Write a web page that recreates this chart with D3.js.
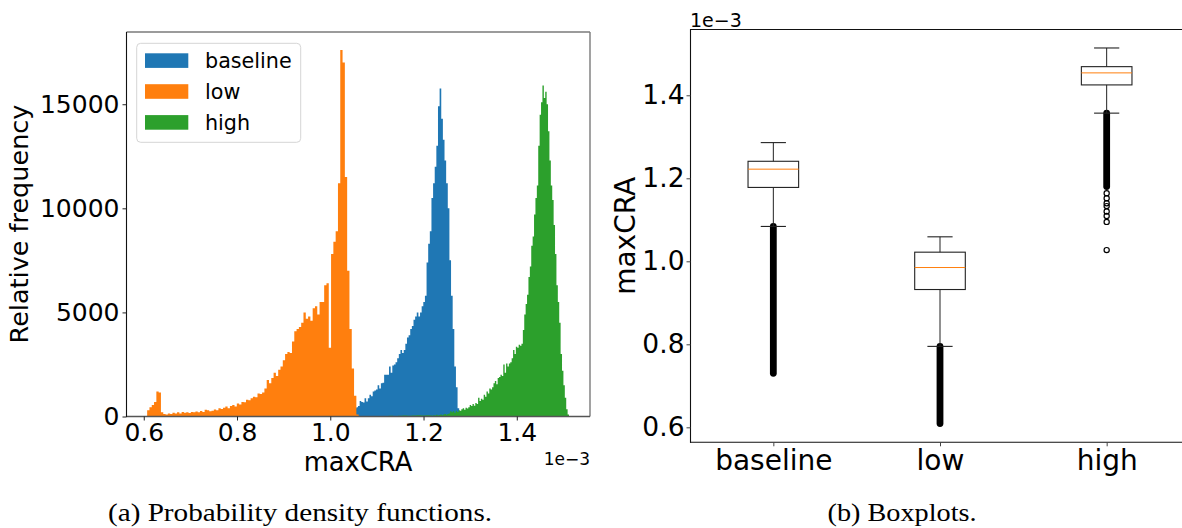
<!DOCTYPE html>
<html>
<head>
<meta charset="utf-8">
<script src="https://cdn.jsdelivr.net/npm/d3@7"></script>
<style>
  html, body { margin: 0; padding: 0; background: #fff; }
  svg { display: block; }
  text { font-family: "DejaVu Sans", sans-serif; fill: #000; }
  text.caption { font-family: "Liberation Serif", "Times New Roman", serif; }
</style>
</head>
<body>
<svg id="chart" width="1182" height="528"></svg>
<script>
// ---------------- DATA ----------------
const categories = ["baseline", "low", "high"];
const seriesColors = ["#1f77b4", "#ff7f0e", "#2ca02c"];

// histogram bin edges (start, width) in units of 1e-3
const baselineBinStart = 1.0525, baselineBinWidth = 0.0035;
const lowBinStart = 0.6073, lowBinWidth = 0.00493;
const highBinStart = 1.215, highBinWidth = 0.003;
const highTailBinStart = 1.025, highTailBinWidth = 0.01;

// relative frequency per bin
const baselineFreq = [400, 450, 500, 750, 700, 670, 880, 720, 880, 1040,
  970, 1200, 1250, 1300, 1500, 1350, 1600, 1620, 2000, 2000,
  2000, 2400, 2100, 2450, 2500, 2600, 2800, 3000, 3200, 3050,
  3200, 3500, 3800, 3900, 4200, 4350, 4650, 4800, 5000, 4800,
  5000, 5300, 5500, 5800, 7400, 8300, 8900, 10500, 11200, 12000,
  13000, 14900, 15750, 14300, 13300, 12300, 11200, 10000, 7500, 5800,
  4200, 2400, 1400, 400, 30];
const lowFreq = [300, 450, 550, 700, 1200, 1150, 200, 120, 100, 150,
  120, 180, 150, 200, 150, 220, 180, 200, 170, 220,
  200, 240, 200, 260, 220, 320, 300, 250, 280, 340,
  300, 400, 360, 420, 480, 400, 500, 550, 480, 620,
  580, 700, 680, 800, 780, 880, 950, 920, 1100, 1080,
  1150, 1350, 1750, 1600, 1850, 2100, 1950, 2250, 2400, 2700,
  3000, 3100, 3050, 3600, 4100, 4200, 4300, 4500, 5000, 4700,
  4800, 4600, 5200, 5300, 4900, 5500, 5500, 6300, 6400, 3300,
  7800, 8400, 8900, 11200, 17600, 17000, 11500, 7000, 4200, 2300,
  1000, 100];
const highFreq = [50, 40, 60, 50, 80, 50, 70, 100, 60, 100,
  120, 80, 120, 150, 250, 200, 250, 180, 280, 220,
  300, 280, 350, 400, 320, 420, 380, 450, 550, 500,
  600, 520, 650, 600, 900, 750, 850, 800, 1050, 950,
  1200, 1100, 1350, 1300, 1400, 1600, 1700, 1550, 1850, 1900,
  2000, 1950, 2500, 2100, 2550, 2400, 2550, 2600, 2800, 3200,
  3000, 3350, 3300, 3450, 3400, 3500, 4150, 4900, 5400, 5850,
  6700, 7200, 8200, 8650, 9700, 10500, 11100, 13000, 14500, 15100,
  15900, 15300, 15600, 15000, 13700, 12300, 11100, 10400, 9200, 7800,
  6300, 5500, 4500, 3000, 2200, 1500, 900, 350, 100];
const highTailFreq = [10, 10, 20, 10, 20, 20, 30, 20, 30, 30, 40, 30, 40, 50, 40, 50, 60, 50, 60];

// tick labels
const histXTicks = [0.6, 0.8, 1.0, 1.2, 1.4];
const histYTicks = [0, 5000, 10000, 15000];
const boxYTicks = [0.6, 0.8, 1.0, 1.2, 1.4];

// boxplot statistics (units of 1e-3): [lower whisker, q1, median, q3, upper whisker]
const baselineBox = [1.084, 1.178, 1.222, 1.241, 1.286];
const lowBox = [0.795, 0.932, 0.985, 1.022, 1.059];
const highBox = [1.357, 1.425, 1.454, 1.469, 1.514];
// densely packed outlier ranges [min, max]
const baselineDenseOutliers = [0.730, 1.084];
const lowDenseOutliers = [0.609, 0.795];
const highDenseOutliers = [1.180, 1.357];
// individual outliers
const baselineOutliers = [];
const lowOutliers = [];
const highOutliers = [1.164, 1.152, 1.140, 1.133, 1.120, 1.109, 1.095, 1.027];

// ---------------- DRAW ----------------
const svg = d3.select("#chart");

// ===== Left: histogram =====
const xL = d3.scaleLinear().domain([0.563, 1.557]).range([126.5, 590]);
const yL = d3.scaleLinear().domain([0, 18470]).range([416.5, 32]);

function binsOf(start, width, freq) {
  const pts = freq.map((v, i) => ({x: start + i * width, v}));
  pts.push({x: start + freq.length * width, v: freq[freq.length - 1]});
  return pts;
}
const area = d3.area()
  .x(d => xL(d.x)).y0(yL(0)).y1(d => yL(d.v))
  .curve(d3.curveStepAfter);

const histSeries = [
  {pts: binsOf(baselineBinStart, baselineBinWidth, baselineFreq), c: seriesColors[0]},
  {pts: binsOf(lowBinStart, lowBinWidth, lowFreq), c: seriesColors[1]},
  {pts: binsOf(highTailBinStart, highTailBinWidth, highTailFreq), c: seriesColors[2]},
  {pts: binsOf(highBinStart, highBinWidth, highFreq), c: seriesColors[2]}
];
const gh = svg.append("g");
histSeries.forEach(s => {
  gh.append("path").attr("d", area(s.pts)).attr("fill", s.c);
});

// spines
const spL = svg.append("g");
spL.append("line").attr("x1", 126.5).attr("x2", 590).attr("y1", 32).attr("y2", 32).attr("stroke", "#7a7a7a").attr("stroke-width", 1.4);
spL.append("line").attr("x1", 590).attr("x2", 590).attr("y1", 32).attr("y2", 416.5).attr("stroke", "#7a7a7a").attr("stroke-width", 1.4);
spL.append("line").attr("x1", 126.5).attr("x2", 590).attr("y1", 416.5).attr("y2", 416.5).attr("stroke", "#555").attr("stroke-width", 1.3);
spL.append("line").attr("x1", 126.5).attr("x2", 126.5).attr("y1", 32).attr("y2", 417).attr("stroke", "#111").attr("stroke-width", 1.1);

// axes
const axYL = svg.append("g").attr("transform", "translate(126.5,0)")
  .call(d3.axisLeft(yL).tickValues(histYTicks).tickSize(4).tickPadding(3).tickFormat(d3.format("d")));
const axXL = svg.append("g").attr("transform", "translate(0,416.5)")
  .call(d3.axisBottom(xL).tickValues(histXTicks).tickSize(4).tickPadding(2.5).tickFormat(d3.format(".1f")));
[axYL, axXL].forEach(a => {
  a.select(".domain").remove();
  a.selectAll("line").attr("stroke", "#222");
  a.selectAll("text").attr("font-size", 25).attr("font-family", "DejaVu Sans").attr("fill", "#000");
});

svg.append("text").attr("transform", "translate(28,224) rotate(-90)")
  .attr("text-anchor", "middle").attr("font-size", 25.5).text("Relative frequency");
svg.append("text").attr("x", 358).attr("y", 471).attr("text-anchor", "middle")
  .attr("font-size", 25.8).text("maxCRA");
svg.append("text").attr("x", 590).attr("y", 465).attr("text-anchor", "end")
  .attr("font-size", 17).text("1e\u22123");

// legend
const lg = svg.append("g");
lg.append("rect").attr("x", 136.7).attr("y", 43.3).attr("width", 164).attr("height", 99)
  .attr("rx", 4).attr("fill", "#fff").attr("fill-opacity", 0.85).attr("stroke", "#d5d5d5").attr("stroke-width", 1);
categories.forEach((c, i) => {
  const cy = 60.6 + i * 30.9;
  lg.append("rect").attr("x", 145).attr("y", cy - 7.3).attr("width", 43.3).attr("height", 14.6).attr("fill", seriesColors[i]);
  lg.append("text").attr("x", 205).attr("y", cy).attr("dy", "0.36em").attr("font-size", 20.7).text(c);
});

// ===== Right: boxplots =====
const xR = d3.scalePoint().domain(categories).range([690, 1190]).padding(0.5);
const yR = d3.scaleLinear().domain([0.5639, 1.559]).range([442.3, 29.3]);

svg.append("line").attr("x1", 690).attr("x2", 1182).attr("y1", 29.5).attr("y2", 29.5).attr("stroke", "#111").attr("stroke-width", 1.1);
svg.append("line").attr("x1", 690).attr("x2", 1182).attr("y1", 442.3).attr("y2", 442.3).attr("stroke", "#111").attr("stroke-width", 1.1);
svg.append("line").attr("x1", 690.5).attr("x2", 690.5).attr("y1", 29.3).attr("y2", 442.8).attr("stroke", "#111").attr("stroke-width", 1.1);

const axYR = svg.append("g").attr("transform", "translate(690.5,0)")
  .call(d3.axisLeft(yR).tickValues(boxYTicks).tickSize(4).tickPadding(2).tickFormat(d3.format(".1f")));
const axXR = svg.append("g").attr("transform", "translate(0,442.3)")
  .call(d3.axisBottom(xR).tickSize(4).tickPadding(3.8));
[axYR, axXR].forEach(a => {
  a.select(".domain").remove();
  a.selectAll("line").attr("stroke", "#444");
  a.selectAll("text").attr("font-family", "DejaVu Sans").attr("fill", "#000");
});
axYR.selectAll("text").attr("font-size", 26.5);
axXR.selectAll("text").attr("font-size", 28);

svg.append("text").attr("transform", "translate(634.5,235.8) rotate(-90)")
  .attr("text-anchor", "middle").attr("font-size", 28).text("maxCRA");
svg.append("text").attr("x", 690).attr("y", 26.7).attr("font-size", 19).text("1e\u22123");

const boxData = [
  {cat: "baseline", s: baselineBox, dense: baselineDenseOutliers, pts: baselineOutliers},
  {cat: "low", s: lowBox, dense: lowDenseOutliers, pts: lowOutliers},
  {cat: "high", s: highBox, dense: highDenseOutliers, pts: highOutliers}
];
const halfBox = 25.3, halfCap = 12.6;
const gb = svg.append("g");
boxData.forEach(b => {
  const cx = xR(b.cat);
  const [wl, q1, med, q3, wh] = b.s;
  gb.append("line").attr("x1", cx).attr("x2", cx)
    .attr("y1", yR(b.dense[0])).attr("y2", yR(b.dense[1]))
    .attr("stroke", "#000").attr("stroke-width", 6.8).attr("stroke-linecap", "round");
  b.pts.forEach(v => {
    gb.append("circle").attr("cx", cx).attr("cy", yR(v)).attr("r", 2.6)
      .attr("fill", "none").attr("stroke", "#000").attr("stroke-width", 1.2);
  });
  gb.append("line").attr("x1", cx).attr("x2", cx).attr("y1", yR(q3)).attr("y2", yR(wh)).attr("stroke", "#222").attr("stroke-width", 1);
  gb.append("line").attr("x1", cx).attr("x2", cx).attr("y1", yR(q1)).attr("y2", yR(wl)).attr("stroke", "#222").attr("stroke-width", 1);
  [wl, wh].forEach(v => {
    gb.append("line").attr("x1", cx - halfCap).attr("x2", cx + halfCap).attr("y1", yR(v)).attr("y2", yR(v)).attr("stroke", "#222").attr("stroke-width", 1.1);
  });
  gb.append("rect").attr("x", cx - halfBox).attr("y", yR(q3)).attr("width", 2 * halfBox).attr("height", yR(q1) - yR(q3))
    .attr("fill", "none").attr("stroke", "#222").attr("stroke-width", 1.1);
  gb.append("line").attr("x1", cx - halfBox).attr("x2", cx + halfBox).attr("y1", yR(med)).attr("y2", yR(med))
    .attr("stroke", "#ff7f0e").attr("stroke-width", 1);
});

// ===== Captions (width fitted to the reference, glyphs widened) =====
const capSquash = 0.87;
[["(a) Probability density functions.", 300, 384], ["(b) Boxplots.", 902, 149]].forEach(([t, cx, w]) => {
  const el = svg.append("text").attr("class", "caption")
    .attr("transform", `translate(${cx},521) scale(${1 / capSquash},1)`)
    .attr("text-anchor", "middle").attr("font-size", 20).text(t);
  const measured = el.node().getComputedTextLength();
  if (measured > 0) el.attr("font-size", 20 * w / measured * capSquash);
});
</script>
</body>
</html>
